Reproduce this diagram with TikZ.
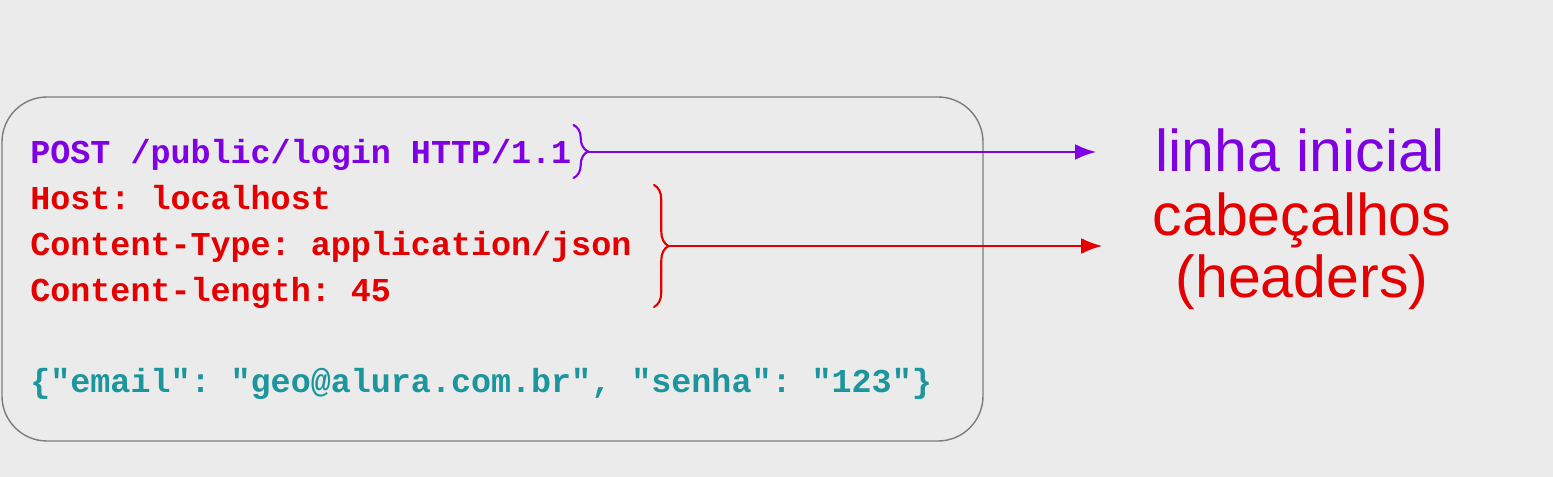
\documentclass[tikz,border=0pt]{standalone}
\usepackage{fontspec}
\setmainfont{Liberation Sans}
\setmonofont{Liberation Mono}
\usepackage{tikz}
\usetikzlibrary{arrows.meta,decorations.pathreplacing,positioning}
\definecolor{bgray}{RGB}{235,235,235}
\definecolor{framegray}{RGB}{125,125,125}
\definecolor{violet}{RGB}{128,0,228}
\definecolor{hred}{RGB}{228,0,0}
\definecolor{bodyteal}{RGB}{28,150,156}

\begin{document}
\begin{tikzpicture}[line cap=round,
  code/.style={anchor=base west, inner sep=0pt, font=\ttfamily\bfseries\fontsize{19}{23}\selectfont},
  label/.style={inner sep=0pt, align=center, font=\fontsize{33.6}{35.5}\selectfont},
  brace/.style={decorate, decoration={brace, amplitude=0.29cm}, line width=1.2pt},
  pointer/.style={-{Latex[length=12pt,width=9pt]}, line width=1.3pt}]
   \fill[bgray] (0,0) rectangle (31.06,-9.54);
   \useasboundingbox (0,0) rectangle (31.06,-9.54);
   % message box
   \draw[framegray, line width=0.8pt, rounded corners=0.9cm] (0.04,-1.94) rectangle (19.66,-8.82);
   \node[code, text=violet] (post) at (0.6,-3.28) {POST /public/login HTTP/1.1};
   \node[code, text=hred] (host) at (0.6,-4.2) {Host: localhost};
   \node[code, text=hred] (ctype) at (0.6,-5.12) {Content-Type: application/json};
   \node[code, text=hred] (clen) at (0.6,-6.04) {Content-length: 45};
   \node[code, text=bodyteal] (body) at (0.6,-7.86) {\{"email": "geo@alura.com.br", "senha": "123"\}};
   % labels
   \node[label, text=violet, anchor=base] (first) at (26.0,-3.44) {linha inicial};
   \node[label, text=hred] (heads) at (26.04,-5.03) {cabeçalhos\\(headers)};
   % braces
   \draw[brace, violet] (11.47,-2.5) -- (11.47,-3.56);
   \draw[brace, hred] (13.08,-3.7) -- (13.08,-6.14);
   \coordinate (tipA) at (11.76,-3.04);
   \coordinate (tipB) at (13.37,-4.92);
   \draw[pointer, violet, shorten >=1.18cm] (tipA) -- (tipA -| first.west);
   \draw[pointer, hred, shorten >=1cm] (tipB) -- (tipB -| heads.west);
\end{tikzpicture}
\end{document}
